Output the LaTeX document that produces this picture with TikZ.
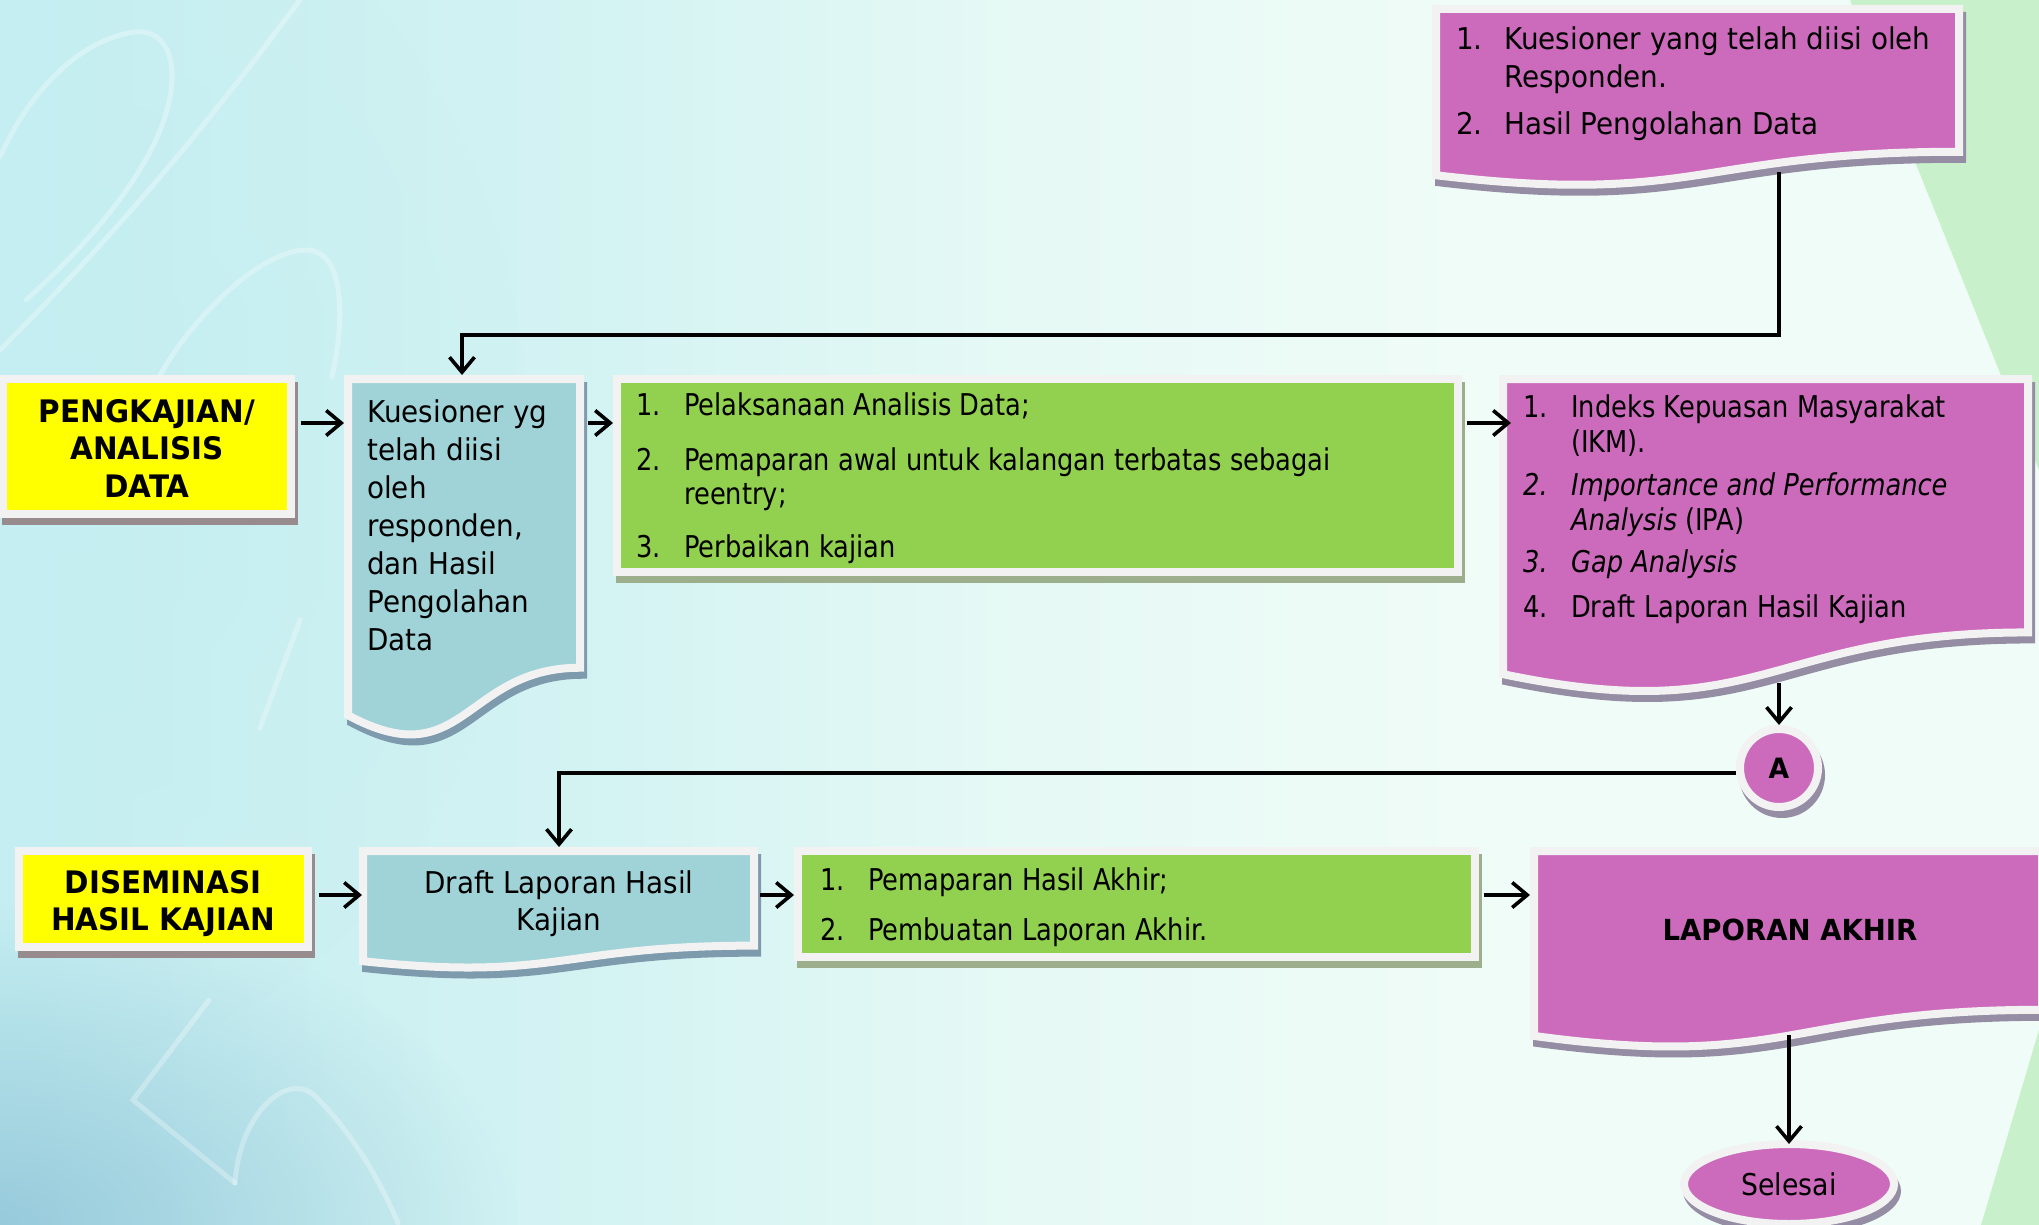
\documentclass[tikz,border=0pt]{standalone}
\usepackage{fontspec}
\setmainfont{DejaVu Sans}
\newfontfamily\fA{DejaVu Sans}[FakeStretch=0.927]
\newfontfamily\fB{DejaVu Sans}[FakeStretch=0.857]
\newfontfamily\fS{DejaVu Sans}[FakeStretch=0.89]
\newfontfamily\fBold{DejaVu Sans}[FakeStretch=0.95]
\usetikzlibrary{arrows.meta,fadings,calc,shapes.geometric}

\definecolor{yel}{HTML}{FFFF00}
\definecolor{cya}{HTML}{A0D3D8}
\definecolor{grn}{HTML}{92D050}
\definecolor{mag}{HTML}{CC6BBC}
\definecolor{brd}{HTML}{F2F2F2}
\definecolor{shY}{HTML}{978B8D}
\definecolor{shC}{HTML}{7E9BAE}
\definecolor{shG}{HTML}{9CAE8C}
\definecolor{shM}{HTML}{958DA3}
\definecolor{bgA}{HTML}{C4EEF1}
\definecolor{bgB}{HTML}{D4F3F3}
\definecolor{bgC}{HTML}{E6F9F5}
\definecolor{bgD}{HTML}{F0FCF7}
\definecolor{bgBlue}{HTML}{8CC2D6}
\definecolor{bgGreen}{HTML}{C8F0CA}

\pgfdeclarehorizontalshading{bgshade}{100bp}{color(0bp)=(bgA); color(25bp)=(bgA); color(40bp)=(bgB); color(50bp)=(bgC); color(62bp)=(bgD); color(75bp)=(bgD); color(100bp)=(bgD)}
\tikzfading[name=softfade, inner color=transparent!0, outer color=transparent!100]

\newcommand\nm[1]{\makebox[48pt][l]{#1}}
\newcommand\docpath[4]{(#1,#2) -- ({#1+#3},#2) -- ({#1+#3},{#2+0.802*#4}) .. controls ({#1+0.5*#3},{#2+0.802*#4}) and ({#1+0.5*#3},{#2+1.1075*#4}) .. (#1,{#2+0.934*#4}) -- cycle}
\newcommand\rectshape[7]{%
  \path[shadowfill=#7] (#2,#3) rectangle ++(#4,#5);
  \path[shapefill=#6] (#2,#3) rectangle ++(#4,#5);
  \node[frame, minimum width={(#4+8)*1pt}, minimum height={(#5+8)*1pt}] (#1) at ({#2-4},{#3-4}) {};
}
\newcommand\docshape[7]{%
  \path[shadowfill=#7] \docpath{#2}{#3}{#4}{#5};
  \path[shapefill=#6] \docpath{#2}{#3}{#4}{#5};
  \node[frame, minimum width={(#4+8)*1pt}, minimum height={(0.99*#5+8)*1pt}] (#1) at ({#2-4},{#3-4}) {};
}

\begin{document}
\begin{tikzpicture}[x=1pt,y=-1pt,
  shapefill/.style={fill=#1, draw=brd, line width=8pt},
  shadowfill/.style={fill=#1, draw=#1, line width=8pt, shift={(3,7)}},
  frame/.style={inner sep=0pt, outer sep=0pt, anchor=north west},
  arr/.style={line width=3.6pt, -{Straight Barb[length=15pt,width=25pt]}},
  txt/.style={inner sep=0pt, anchor=base west},
  ctxt/.style={inner sep=0pt, anchor=base},
  deco/.style={draw=white, opacity=0.3, line width=5pt, line cap=round}]

\useasboundingbox (0,0) rectangle (2039,1225);
\clip (0,0) rectangle (2039,1225);

% background
\shade[shading=bgshade] (0,0) rectangle (2039,1225);
\fill[bgA, path fading=softfade, opacity=0.6] (80,450) ellipse[x radius=450, y radius=600];
\fill[bgBlue, path fading=softfade, opacity=0.8] (0,1225) ellipse[x radius=520, y radius=320];
\fill[bgGreen] (1850,0) -- (2039,0) -- (2039,470) -- cycle;
\fill[bgGreen] (2039,1030) -- (1981,1225) -- (2039,1225) -- cycle;
\draw[deco] (0,157) .. controls (30,90) and (80,40) .. (134,32) .. controls (170,28) and (185,70) .. (159,133) .. controls (130,200) and (70,260) .. (26,300);
\draw[deco] (300,0) .. controls (240,80) and (150,200) .. (0,350);
\draw[deco] (159,377) .. controls (190,320) and (260,250) .. (306,250) .. controls (345,250) and (345,320) .. (332,377);
\draw[deco] (209,1000) -- (133,1100) -- (235,1183);
\draw[deco] (235,1183) .. controls (240,1110) and (290,1070) .. (316,1097) .. controls (350,1130) and (380,1180) .. (398,1223);
\draw[deco] (300,620) -- (260,728);

% shapes
\docshape{M1}{1436}{9}{523}{178}{mag}{shM}
\rectshape{Y1}{3}{379}{288}{135}{yel}{shY}
\docshape{C1}{348}{379}{232}{360}{cya}{shC}
\rectshape{G1}{617}{379}{841}{193}{grn}{shG}
\docshape{M2}{1503}{379}{525}{316}{mag}{shM}
\rectshape{Y2}{19}{851}{289}{96}{yel}{shY}
\docshape{C2}{363}{851}{391}{118}{cya}{shC}
\rectshape{G2}{798}{851}{677}{106}{grn}{shG}
\docshape{M3}{1534}{851}{508}{198}{mag}{shM}

\fill[shM] (1782,775) circle[radius=43];
\node[circle, fill=mag, draw=brd, line width=8pt, minimum size=78pt, inner sep=0pt,
  font=\fBold\bfseries\fontsize{28}{30}\selectfont] (A) at (1779,768) {A};
\fill[shM] (1792,1191) ellipse[x radius=109, y radius=44];
\node[ellipse, fill=mag, draw=brd, line width=8pt, minimum width=210pt, minimum height=80pt, inner sep=0pt,
  font=\fS\fontsize{30}{36}\selectfont] (S) at (1789,1184) {Selesai};

% connectors
\coordinate (r1) at (0,423);
\coordinate (r2) at (0,895);
\coordinate (m1out) at (1779,172);
\coordinate (j1) at (462,335);
\coordinate (m2out) at (1779,683);
\coordinate (j2) at (559,773);
\coordinate (m3out) at (1789,1035);

\draw[arr] (m1out) |- (j1) -- (j1 |- C1.north);
\draw[arr, shorten <=6pt] (Y1.east |- r1) -- (C1.west |- r1);
\draw[arr, shorten <=4pt] (C1.east |- r1) -- (G1.west |- r1);
\draw[arr, shorten <=5pt, shorten >=-12pt] (G1.east |- r1) -- (M2.west |- r1);
\draw[arr] (m2out) -- (A.north);
\draw[arr] (A.west |- j2) -- (j2) -- (j2 |- C2.north);
\draw[arr, shorten <=7pt, shorten >=-3pt] (Y2.east |- r2) -- (C2.west |- r2);
\draw[arr, shorten <=2pt] (C2.east |- r2) -- (G2.west |- r2);
\draw[arr, shorten <=5pt] (G2.east |- r2) -- (M3.west |- r2);
\draw[arr, shorten >=-4pt] (m3out) -- (S.north);

% texts
\node[txt, font=\fA\fontsize{30}{38}\selectfont] (tM1) at (1456,50)
  {\begin{tabular}[t]{@{}l@{}}\nm{1.}Kuesioner yang telah diisi oleh\\ \nm{}Responden.\\[9pt] \nm{2.}Hasil Pengolahan Data\end{tabular}};
\node[ctxt, font=\fBold\bfseries\fontsize{31}{37.5}\selectfont] (tY1) at (147,422)
  {\begin{tabular}[t]{@{}c@{}}PENGKAJIAN/\\ANALISIS\\DATA\end{tabular}};
\node[txt, font=\fA\fontsize{30}{38.1}\selectfont] (tC1) at (367,422)
  {\begin{tabular}[t]{@{}l@{}}Kuesioner yg\\telah diisi\\oleh\\responden,\\dan Hasil\\Pengolahan\\Data\end{tabular}};
\node[txt, font=\fB\fontsize{30}{34}\selectfont] (tG1) at (636,415)
  {\begin{tabular}[t]{@{}l@{}}\nm{1.}Pelaksanaan Analisis Data;\\[21pt] \nm{2.}Pemaparan awal untuk kalangan terbatas sebagai\\ \nm{}reentry;\\[19pt] \nm{3.}Perbaikan kajian\end{tabular}};
\node[txt, font=\fB\fontsize{30}{35}\selectfont] (tM2) at (1523,417)
  {\begin{tabular}[t]{@{}l@{}}\nm{1.}Indeks Kepuasan Masyarakat\\ \nm{}(IKM).\\[8pt] \nm{\itshape 2.}\textit{Importance and Performance}\\ \nm{}\textit{Analysis} (IPA)\\[7pt] \nm{\itshape 3.}\textit{Gap Analysis}\\[10pt] \nm{4.}Draft Laporan Hasil Kajian\end{tabular}};
\node[ctxt, font=\fBold\bfseries\fontsize{31}{37}\selectfont] (tY2) at (163,893)
  {\begin{tabular}[t]{@{}c@{}}DISEMINASI\\HASIL KAJIAN\end{tabular}};
\node[ctxt, font=\fA\fontsize{30}{37}\selectfont] (tC2) at (559,893)
  {\begin{tabular}[t]{@{}c@{}}Draft Laporan Hasil\\Kajian\end{tabular}};
\node[txt, font=\fB\fontsize{30}{50}\selectfont] (tG2) at (820,890)
  {\begin{tabular}[t]{@{}l@{}}\nm{1.}Pemaparan Hasil Akhir;\\ \nm{2.}Pembuatan Laporan Akhir.\end{tabular}};
\node[ctxt, font=\fBold\bfseries\fontsize{29}{35}\selectfont] (tM3) at (1790,940) {LAPORAN AKHIR};

\end{tikzpicture}
\end{document}
